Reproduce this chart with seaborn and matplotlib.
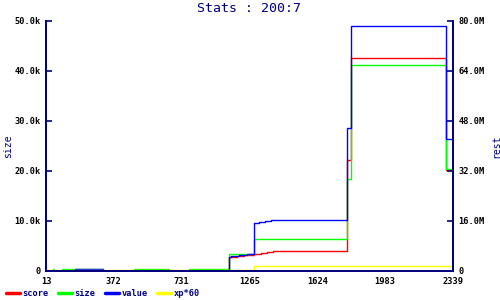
import matplotlib
matplotlib.use("Agg")
import matplotlib.pyplot as plt
import seaborn as sns
import pandas as pd
from matplotlib.lines import Line2D

# ---- data (x in sample-slot units; ticks every 100 slots) ----
tick_pos = [0, 100, 200, 300, 400, 500, 600]
tick_labels = ["13", "372", "731", "1265", "1624", "1983", "2339"]

score_x = [0, 270, 282, 292, 307, 317, 326, 335, 443, 450, 590, 600]
score_y = [0, 2.7, 2.9, 3.2, 3.4, 3.6, 3.8, 4.0, 22.1, 42.5, 20.1, 20.1]

size_x = [0, 10, 12, 23, 84, 130, 181, 211, 270, 307, 443, 450, 590, 600]
size_y = [0, 0.3, 0, 0.3, 0, 0.3, 0, 0.3, 3.4, 6.3, 18.3, 41.2, 20.4, 20.4]

value_x = [0, 43, 84, 270, 273, 284, 296, 307, 314, 323, 332, 443, 450, 590, 600]
value_y = [0, 0.3, 0, 2.7, 2.9, 3.1, 3.3, 9.5, 9.7, 9.9, 10.1, 28.5, 49.0, 26.3, 26.3]

xp_x = [0, 307, 600]
xp_y = [0.15, 0.9, 0.9]

left_ticks = [0, 10, 20, 30, 40, 50]
left_labels = ["0", "10.0k", "20.0k", "30.0k", "40.0k", "50.0k"]
right_ticks = [0, 16, 32, 48, 64, 80]
right_labels = ["0", "16.0M", "32.0M", "48.0M", "64.0M", "80.0M"]

names = ["score", "size", "value", "xp*60"]
colors = ["#ff0000", "#00ff00", "#0000ff", "#ffff00"]

frames = []
for n, xs, ys in zip(names, [score_x, size_x, value_x, xp_x], [score_y, size_y, value_y, xp_y]):
    frames.append(pd.DataFrame({"x": xs, "y": ys, "series": n}))
df = pd.concat(frames, ignore_index=True)

sns.set_style("white")
navy = "#000080"
mono = "DejaVu Sans Mono"

fig = plt.figure(figsize=(5, 3), dpi=100)
ax = fig.add_axes([0.092, 0.0967, 0.814, 0.834])

for n, c in zip(names, colors):
    sns.lineplot(data=df[df.series == n], x="x", y="y", color=c, drawstyle="steps-post",
                 lw=1.0, ax=ax, legend=False, estimator=None, sort=False)

ax.set_xlim(0, 600)
ax.set_ylim(0, 50)
ax.set_xticks(tick_pos)
ax.set_xticklabels(tick_labels)
ax.set_yticks(left_ticks)
ax.set_yticklabels(left_labels)
ax.set_xlabel("")
ax.set_ylabel("size", color=navy, fontsize=7, family=mono)
ax.yaxis.set_label_coords(-0.082, 0.5)
ax.set_title("Stats : 200:7", color=navy, fontsize=9.5, family=mono, pad=6)

ax2 = ax.twinx()
ax2.set_ylim(0, 80)
ax2.set_yticks(right_ticks)
ax2.set_yticklabels(right_labels)
ax2.set_ylabel("rest", color=navy, fontsize=7, family=mono)
ax2.yaxis.set_label_coords(1.093, 0.5)

for a in (ax, ax2):
    for s in ["left", "right", "bottom"]:
        a.spines[s].set_color(navy)
        a.spines[s].set_linewidth(1.3)
        a.spines[s].set_visible(True)
    a.spines["top"].set_visible(False)
    a.tick_params(direction="in", length=4, width=1.2, color=navy, pad=4,
                  labelsize=6.2, labelcolor="black")
    for t in a.get_xticklabels() + a.get_yticklabels():
        t.set_family(mono)
        t.set_fontweight("bold")
ax.grid(False)
ax2.grid(False)

handles = [Line2D([0], [0], color=c, lw=2.5) for c in colors]
leg = fig.legend(handles, names, loc="lower left", bbox_to_anchor=(0.0, -0.015), ncol=4,
                 frameon=False, handlelength=1.6, handletextpad=0.3, columnspacing=1.1,
                 prop={"family": mono, "size": 6.2, "weight": "bold"}, borderaxespad=0.3)
for t in leg.get_texts():
    t.set_color(navy)

fig.savefig("out.png", dpi=100)
